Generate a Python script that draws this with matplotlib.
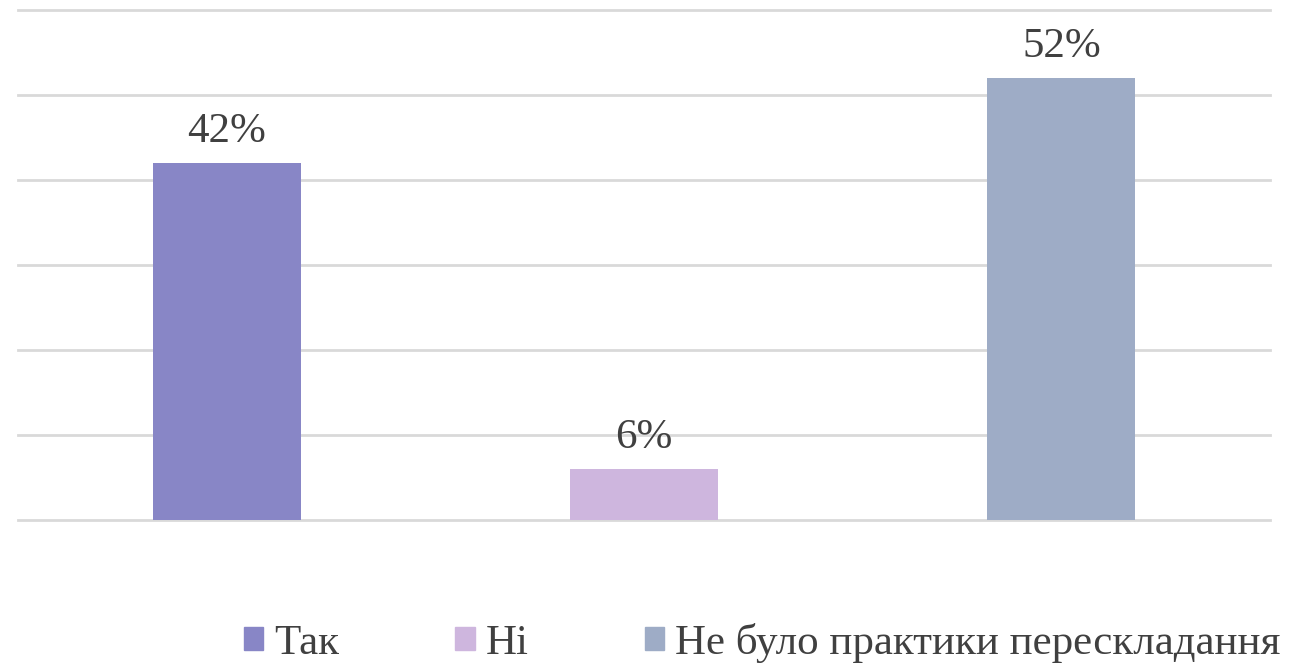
import numpy as np
import matplotlib
matplotlib.use('Agg')
import matplotlib.pyplot as plt
from matplotlib.patches import Patch

categories = ['Так', 'Ні', 'Не було практики перескладання']
values = [42, 6, 52]
colors = ['#8886C6', '#CEB6DE', '#9EACC6']

plt.rcParams['font.family'] = ['Liberation Serif', 'DejaVu Serif']

fig = plt.figure(figsize=(13.02, 6.67), dpi=100)
ax = fig.add_axes([18 / 1302, 147 / 667, 1252 / 1302, 510 / 667])

x = np.arange(len(categories))
bars = ax.bar(x, values, width=0.355, color=colors, zorder=3)
for xi, v in zip(x, values):
    ax.text(xi, v + 1.4, f'{v}%', ha='center', va='bottom',
            fontsize=31, color='#404040')

ax.set_xlim(-0.5, 2.5)
ax.set_ylim(0, 60)
ax.set_yticks(np.arange(0, 61, 10))
ax.yaxis.grid(True, color='#D9D9D9', linewidth=2, zorder=0)
for line in ax.get_ygridlines():
    line.set_clip_on(False)
ax.set_xticks([])
ax.tick_params(left=False, labelleft=False)
for s in ax.spines.values():
    s.set_visible(False)

handles = [Patch(color=c) for c in colors]
fig.legend(handles, categories, loc='center left',
           bbox_to_anchor=(244 / 1302, 1 - 643 / 667), ncol=3, frameon=False,
           fontsize=31, labelcolor='#404040', handlelength=0.45,
           handleheight=0.45, handletextpad=0.25, columnspacing=2.7,
           borderaxespad=0, borderpad=0)

fig.savefig('out.png', dpi=100)
